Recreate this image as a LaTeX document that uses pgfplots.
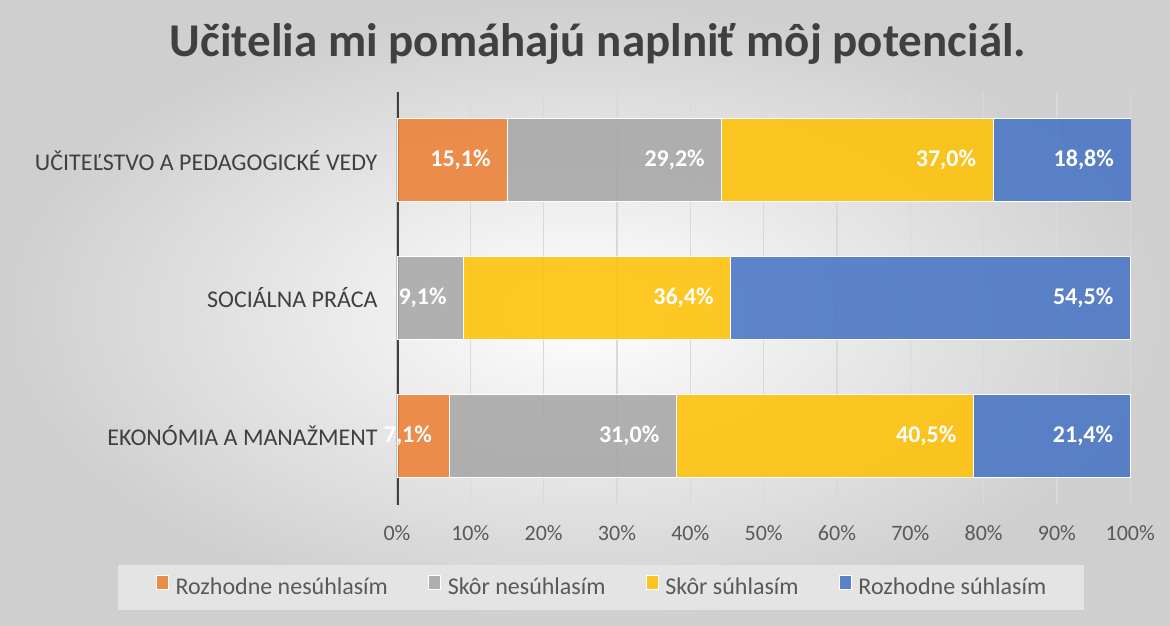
\documentclass[border=0pt]{standalone}
\usepackage{pgfplots}
\pgfplotsset{compat=1.18}
\usepackage{pgfplotstable}
\usepackage{fontspec}
\setmainfont{Carlito}
\definecolor{cOrange}{HTML}{ED7D31}
\definecolor{cGray}{HTML}{A5A5A5}
\definecolor{cYellow}{HTML}{FFC000}
\definecolor{cBlue}{HTML}{4472C4}
\definecolor{gridgray}{HTML}{D9D9D9}
\definecolor{axisdark}{HTML}{404040}
\definecolor{titletext}{HTML}{404040}
\definecolor{ticktext}{HTML}{595959}
\definecolor{legendfill}{HTML}{E4E4E4}

% y: 0 = Ekonómia, 1 = Sociálna práca, 2 = Učiteľstvo
\pgfplotstableread{
y v lab
0 7.1 {7,1\%}
1 0 {0,0\%}
2 15.1 {15,1\%}
}\dataA
\pgfplotstableread{
y v lab
0 31.0 {31,0\%}
1 9.1 {9,1\%}
2 29.2 {29,2\%}
}\dataB
\pgfplotstableread{
y v lab
0 40.5 {40,5\%}
1 36.4 {36,4\%}
2 37.0 {37,0\%}
}\dataC
\pgfplotstableread{
y v lab
0 21.4 {21,4\%}
1 54.5 {54,5\%}
2 18.8 {18,8\%}
}\dataD

\begin{document}
\begin{tikzpicture}
\shade[inner color=white, outer color=black!19] (0pt,0pt) rectangle (1170pt,625pt);
\node[font=\bfseries\fontsize{47}{54}\selectfont, text=titletext] at (598pt,581pt) {Učitelia mi pomáhajú naplniť môj potenciál.};
\begin{axis}[
  at={(397pt,120.5pt)}, anchor=south west, scale only axis,
  width=734pt, height=413pt,
  xbar stacked, bar width=83pt,
  xmin=0, xmax=100.1, ymin=-0.5, ymax=2.5,
  ytick={0,1,2},
  yticklabels={EKONÓMIA A MANAŽMENT, SOCIÁLNA PRÁCA, UČITEĽSTVO A PEDAGOGICKÉ VEDY},
  xtick={0,10,...,100},
  xticklabel={\pgfmathprintnumber{\tick}\%},
  /pgf/number format/assume math mode=true,
  major tick length=0pt,
  xmajorgrids, grid style={draw=gridgray, line width=1.3pt},
  axis y line*=left, axis x line*=bottom,
  axis line style={draw=none},
  xticklabel style={font=\fontsize{22}{26}\selectfont, text=ticktext, yshift=-17pt},
  yticklabel style={font=\fontsize{24}{28}\selectfont, text=axisdark, xshift=-16pt},
  nodes near coords,
  point meta=explicit symbolic,
  visualization depends on={\thisrow{v} \as \rawv},
  every node near coord/.append style={anchor=east, xshift={\rawv*3.67pt-13.5pt}, font=\bfseries\fontsize{24}{28}\selectfont, text=white, text opacity=1},
  legend columns=4,
  legend style={at={(0.278,-0.2010)}, anchor=center, fill=legendfill, draw=none,
    font=\fontsize{24}{28}\selectfont, text=ticktext,
    inner xsep=38pt, inner ysep=10pt,
    nodes={inner sep=0pt, text height=17pt, text depth=5pt},
    /tikz/every odd column/.append style={column sep=7pt},
    /tikz/every even column/.append style={column sep=40pt}},
  legend image code/.code={\fill[#1] (0pt,-1pt) rectangle (12pt,13pt);},
  every axis plot/.append style={draw=white, line width=0.8pt, fill opacity=0.85},
]
\addplot[fill=cOrange] table[x=v, y=y, meta=lab] {\dataA};
\addplot[fill=cGray] table[x=v, y=y, meta=lab] {\dataB};
\addplot[fill=cYellow] table[x=v, y=y, meta=lab] {\dataC};
\addplot[fill=cBlue] table[x=v, y=y, meta=lab] {\dataD};
\legend{Rozhodne nesúhlasím, Skôr nesúhlasím, Skôr súhlasím, Rozhodne súhlasím}
\draw[axisdark, line width=3.5pt] (axis cs:0,-0.5) -- (axis cs:0,2.5);
\end{axis}
\end{tikzpicture}
\end{document}
